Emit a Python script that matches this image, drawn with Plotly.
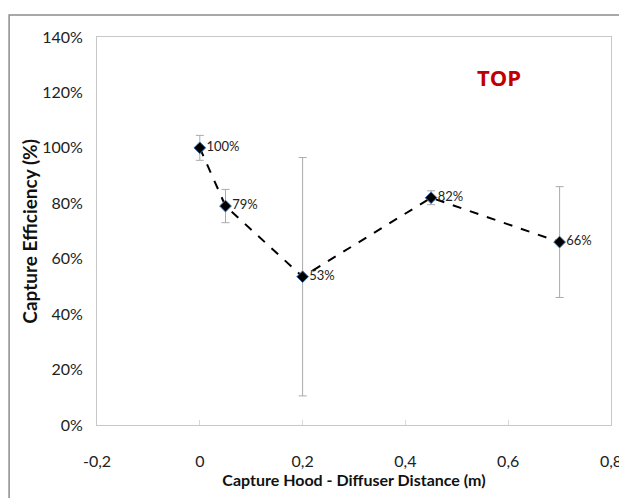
import plotly.graph_objects as go

distance = [0.0, 0.05, 0.2, 0.45, 0.7]
efficiency = [100, 79, 53.5, 82, 66]
err = [4.5, 6, 43, 2.5, 20]
labels = ["100%", "79%", "53%", "82%", "66%"]
x_tickvals = [-0.2, 0, 0.2, 0.4, 0.6, 0.8]
x_ticktext = ["-0,2", "0", "0,2", "0,4", "0,6", "0,8"]
y_tickvals = [0, 20, 40, 60, 80, 100, 120, 140]
y_ticktext = ["0%", "20%", "40%", "60%", "80%", "100%", "120%", "140%"]

font_main = "Lato, sans-serif"

fig = go.Figure()
fig.add_trace(go.Scatter(
    x=distance, y=efficiency,
    mode="lines+markers+text",
    text=labels, textposition="middle right",
    textfont=dict(family=font_main, size=13, color="#222"),
    line=dict(color="black", width=2, dash="dash"),
    marker=dict(symbol="diamond", size=9, color="black",
                line=dict(color="#3a6ea5", width=1)),
    error_y=dict(type="data", array=err, visible=True,
                 color="#aaaaaa", thickness=1, width=4),
    cliponaxis=False,
    showlegend=False,
))

fig.add_annotation(x=0.829, y=0.941, xref="paper", yref="paper",
                   text="<b>TOP</b>", showarrow=False,
                   font=dict(family="Open Sans, sans-serif", size=22, color="#c00000"))

fig.add_annotation(x=-0.133, y=0.5, xref="paper", yref="paper",
                   text="<b>Capture Efficiency (%)</b>", showarrow=False,
                   textangle=-90, xanchor="center", yanchor="middle",
                   font=dict(family=font_main, size=19, color="#111"))

fig.add_shape(type="rect", xref="paper", yref="paper",
              x0=-0.171, x1=1.1, y0=-0.3, y1=1.057,
              line=dict(color="#8c8c8c", width=1.5), layer="below")

fig.update_layout(
    width=619, height=498,
    margin=dict(l=97, r=8, t=37, b=73),
    paper_bgcolor="white", plot_bgcolor="white",
    font=dict(family=font_main, size=16, color="#222"),
    xaxis=dict(range=[-0.2, 0.8], tickvals=x_tickvals, ticktext=x_ticktext,
               showgrid=False, zeroline=False, automargin=False,
               showline=True, linecolor="#c8c8c8", linewidth=1, mirror=True,
               ticks="inside", ticklen=5, tickcolor="#d8d8d8",
               ticklabelstandoff=22, ticklabeloverflow="allow",
               tickfont=dict(family=font_main, size=16, color="#222"),
               title=dict(text="<b>Capture Hood - Diffuser Distance (m)</b>",
                          font=dict(family=font_main, size=16, color="#111"),
                          standoff=2)),
    yaxis=dict(range=[0, 140], tickvals=y_tickvals, ticktext=y_ticktext,
               showgrid=False, zeroline=False, automargin=False,
               showline=True, linecolor="#c8c8c8", linewidth=1, mirror=True,
               ticks="", ticklabelstandoff=10,
               tickfont=dict(family=font_main, size=16, color="#222")),
)

fig.write_html("out.html", config={"displayModeBar": False},
               post_script="document.body.style.margin='0';")
